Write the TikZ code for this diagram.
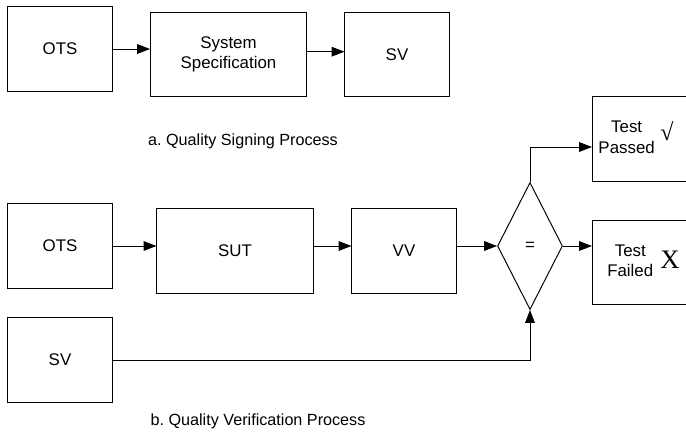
\documentclass[tikz,border=0pt]{standalone}
\usepackage{fontspec}
\setmainfont{Liberation Sans}
\newfontfamily\symfont{Liberation Serif}
\usepackage{tikz}
\usetikzlibrary{shapes.geometric, arrows.meta, positioning}
\frenchspacing

\begin{document}
\begin{tikzpicture}[
    x=0.025cm, y=-0.025cm,
    block/.style={rectangle, draw, minimum width=2.6cm, minimum height=2.1cm, align=center, font=\fontsize{12}{14.5}\selectfont, line width=0.7pt},
    wide/.style={block, minimum width=3.9cm},
    result/.style={block, text width=2.3cm, align=left, anchor=west},
    compare/.style={diamond, draw, minimum width=1.625cm, minimum height=3.175cm, inner sep=0pt, font=\fontsize{12}{14.5}\selectfont, line width=0.7pt},
    arrow/.style={-{Triangle[length=3.2mm, width=2.4mm]}, line width=0.7pt},
    caption/.style={font=\fontsize{11.5}{14}\selectfont}
]
\useasboundingbox (0,0) rectangle (686,434);

% a. signing
\node[block] (ots1) at (60,49) {OTS};
\node[wide] (spec) at (228.5,54.5) {System\\Specification};
\node[block] (sv1) at (397,54.5) {SV};
\node[caption] (capa) at (243,141) {a. Quality Signing Process};

\draw[arrow] (ots1) -- (ots1 -| spec.west);
\draw[arrow] ([yshift=0.07cm]spec.east) -- ([yshift=0.07cm]sv1.west);

% b. verification
\node[block] (ots2) at (60,246) {OTS};
\node[wide] (sut) at (235,251) {SUT};
\node[block] (vv) at (404,251) {VV};
\node[block] (sv2) at (60,360) {SV};
\node[compare] (eq) at (530,246) {=};
\node[result] (pass) at (592,139) {\begin{tabular}{@{}c@{}}Test\\Passed\end{tabular}\hspace{4pt}\raisebox{2pt}{\symfont\fontsize{17}{17}\selectfont √}};
\node[result] (fail) at (592,262.5) {\hspace*{0.22cm}\begin{tabular}{@{}c@{}}Test\\Failed\end{tabular}\hspace{5pt}\raisebox{-1pt}{\symfont\fontsize{19}{19}\selectfont X}};
\node[caption] (capb) at (258,421) {b. Quality Verification Process};

\draw[arrow] (ots2) -- (ots2 -| sut.west);
\draw[arrow] (sut.east |- eq) -- (eq -| vv.west);
\draw[arrow] (vv.east |- eq) -- (eq.west);
\draw[arrow] (eq.north) |- ([yshift=-0.2cm]pass.west);
\draw[arrow] (eq.east) -- (eq -| fail.west);
\draw[arrow] (sv2) -| (eq.south);

\end{tikzpicture}
\end{document}
